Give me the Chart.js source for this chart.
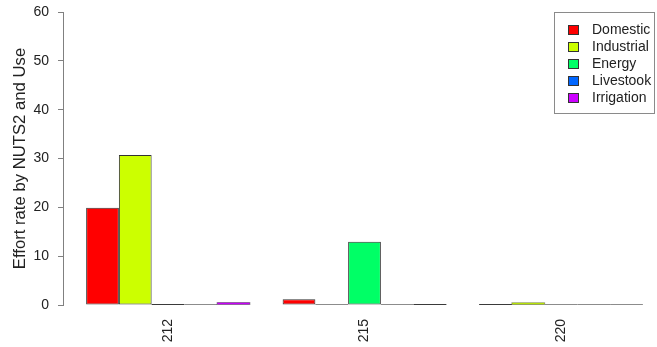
<!DOCTYPE html>
<html>
<head>
<meta charset="utf-8">
<script src="https://cdn.jsdelivr.net/npm/chart.js@4/dist/chart.umd.min.js"></script>
<style>
  html, body { margin: 0; padding: 0; background: #ffffff; overflow: hidden; }
  #wrap { position: relative; width: 657px; height: 347px; }
  #legend {
    position: absolute; left: 554px; top: 12px; width: 99px; height: 100px;
    border: 1px solid #8a8a8a; box-sizing: content-box;
    font-family: "Liberation Sans", Arial, sans-serif; font-size: 14px; color: #222;
  }
  #legend .row { position: absolute; left: 0; height: 17px; line-height: 17px; white-space: nowrap; }
  #legend .sw { position: absolute; left: 13px; top: 4px; width: 9px; height: 8px; border: 1px solid #333; }
  #legend .tx { position: absolute; left: 37px; top: 0; }
</style>
</head>
<body>
<div id="wrap">
  <canvas id="c" width="657" height="347"></canvas>
  <div id="legend"></div>
</div>
<script>
// NUTS2 regions and effort rate per water use
const regions = ['212', '215', '220'];
const uses = ['Domestic', 'Industrial', 'Energy', 'Livestook', 'Irrigation'];
const domestic   = [19.9, 1.2, 0.1];
const industrial = [30.7, 0.0, 0.45];
const energy     = [0.1, 12.95, 0.0];
const livestock  = [0.0, 0.0, 0.0];
const irrigation = [0.5, 0.1, 0.0];
const useColors = ['#FF0000', '#CCFF00', '#00FF66', '#0066FF', '#CC00FF'];
const yTicks = [0, 10, 20, 30, 40, 50, 60];

const seriesValues = [domestic, industrial, energy, livestock, irrigation];
const FONT = '"Liberation Sans", Arial, sans-serif';

const datasets = uses.map((name, k) => ({
  label: name,
  data: seriesValues[k].map((v, i) => ({ x: i, y: v })),
  backgroundColor: useColors[k],
  borderColor: '#333333',
  // very short bars keep their fill colour visible; their outline is added below
  borderWidth: (c) => (c.raw && Math.abs(c.raw.y) < 1 ? 0 : 1),
  borderSkipped: false,
  categoryPercentage: 5 / 6,
  barPercentage: 1
}));

// Outline for very short bars, and a thin baseline stroke for (near) zero bars
const flatBars = {
  id: 'flatBars',
  afterDatasetsDraw(chart) {
    const ctx = chart.ctx;
    ctx.save();
    ctx.lineWidth = 1;
    chart.data.datasets.forEach((ds, di) => {
      const meta = chart.getDatasetMeta(di);
      meta.data.forEach((el, i) => {
        const p = el.getProps(['x', 'y', 'base', 'width'], true);
        const h = Math.abs(p.base - p.y);
        const v = ds.data[i].y;
        const x0 = p.x - p.width / 2, x1 = p.x + p.width / 2;
        if (h < 1) {
          ctx.strokeStyle = v === 0 ? '#8c8c8c' : '#3a3a3a';
          ctx.beginPath();
          ctx.moveTo(x0, Math.round(p.base) - 0.5);
          ctx.lineTo(x1, Math.round(p.base) - 0.5);
          ctx.stroke();
        } else if (Math.abs(v) < 1) {
          ctx.strokeStyle = 'rgba(50,50,50,0.45)';
          ctx.strokeRect(x0, Math.min(p.y, p.base), p.width, h);
        }
      });
    });
    ctx.restore();
  }
};

const chart = new Chart(document.getElementById('c'), {
  type: 'bar',
  data: { datasets },
  options: {
    responsive: false,
    animation: false,
    devicePixelRatio: 1,
    layout: { padding: { top: 12, right: 7, left: 0, bottom: 0 } },
    plugins: { legend: { display: false }, tooltip: { enabled: false } },
    scales: {
      x: {
        type: 'linear',
        min: -0.5344,
        max: 2.4529,
        offset: false,
        grid: { display: false },
        border: { display: false },
        afterBuildTicks(scale) { scale.ticks = regions.map((_, i) => ({ value: i })); },
        afterFit(scale) {
          scale.height = 42;
          scale.paddingLeft = 0;
          scale.paddingRight = 0;
        },
        ticks: {
          autoSkip: false,
          minRotation: 90,
          maxRotation: 90,
          padding: 6,
          color: '#222',
          font: { family: FONT, size: 14 },
          callback: (v) => regions[v] !== undefined ? regions[v] : ''
        }
      },
      y: {
        min: 0,
        max: 60,
        afterBuildTicks(scale) { scale.ticks = yTicks.map(v => ({ value: v })); },
        afterFit(scale) {
          scale.width = 63;
          scale.paddingTop = 0;
          scale.paddingBottom = 0;
        },
        grid: { drawOnChartArea: false, tickLength: 5, color: '#808080' },
        border: { display: true, color: '#808080', width: 1 },
        ticks: {
          padding: 9,
          color: '#222',
          font: { family: FONT, size: 14 }
        },
        title: {
          display: true,
          text: 'Effort rate by NUTS2 and Use',
          color: '#222',
          font: { family: FONT, size: 16.7 },
          padding: { top: 10, bottom: 0 }
        }
      }
    }
  },
  plugins: [flatBars]
});

// Boxed legend built from the chart's own legend items
const legendEl = document.getElementById('legend');
chart.options.plugins.legend.labels.generateLabels(chart).forEach((item, i) => {
  const row = document.createElement('div');
  row.className = 'row';
  row.style.top = (8 + i * 17) + 'px';
  const sw = document.createElement('span');
  sw.className = 'sw';
  sw.style.background = useColors[i];
  const tx = document.createElement('span');
  tx.className = 'tx';
  tx.textContent = item.text;
  row.appendChild(sw);
  row.appendChild(tx);
  legendEl.appendChild(row);
});
</script>
</body>
</html>
